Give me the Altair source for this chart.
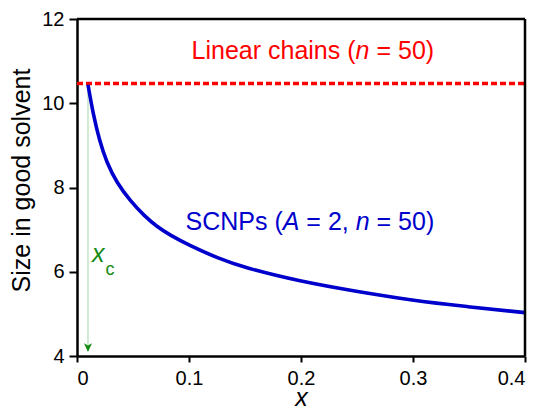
import altair as alt
import pandas as pd

# ---- data ----
x_vals = [0.0098, 0.0146, 0.020, 0.0265, 0.0356, 0.0476, 0.060, 0.0714, 0.083,
          0.100, 0.125, 0.149, 0.199, 0.250, 0.297, 0.348, 0.400]
size_vals = [10.44, 9.72, 9.12, 8.59, 8.11, 7.68, 7.33, 7.07, 6.87,
             6.63, 6.33, 6.10, 5.77, 5.53, 5.33, 5.17, 5.03]
linear_size = 10.47
x_c = 0.0098
x_ticks = [0, 0.1, 0.2, 0.3, 0.4]
y_ticks = [4, 6, 8, 10, 12]
x_min, x_max = 0, 0.4
y_min, y_max = 4, 12

FONT = "Liberation Sans"
BLUE = "#0000cc"
RED = "#ff0000"
GREEN_TXT = "#148a14"
GREEN_LINE = "#b4dcb4"

df = pd.DataFrame({"x": x_vals, "size": size_vals})
one = pd.DataFrame({"k": [0]})  # single row for annotation layers

xs = alt.Scale(domain=[x_min, x_max], nice=False, zero=False)
ys = alt.Scale(domain=[y_min, y_max], nice=False, zero=False)

X = alt.X("x:Q", scale=xs, axis=alt.Axis(
    values=x_ticks, format="~g", title="x", titleFontStyle="italic",
    titleFontSize=25, titleFontWeight="normal", titleBaseline="alphabetic",
    titleY=49, tickSize=6, labelPadding=22, labelBaseline="alphabetic"))
Y = alt.Y("size:Q", scale=ys, axis=alt.Axis(
    values=y_ticks, title="Size in good solvent", titleFontSize=25,
    titleFontWeight="normal", titleX=-56, titleY=161, titleAlign="center",
    titleBaseline="middle", tickSize=8, labelPadding=5))

curve = alt.Chart(df).mark_line(color=BLUE, strokeWidth=3.6, interpolate="basis").encode(x=X, y=Y)

# frame (top and right sides)
frame_top = alt.Chart(one).mark_rule(color="black", strokeWidth=2.5).encode(
    x=alt.datum(x_min, scale=xs), x2=alt.datum(x_max), y=alt.datum(y_max, scale=ys))
frame_right = alt.Chart(one).mark_rule(color="black", strokeWidth=2.5).encode(
    x=alt.datum(x_max), y=alt.datum(y_min), y2=alt.datum(y_max))

red_line = alt.Chart(one).mark_rule(color=RED, strokeWidth=3.5, strokeDash=[6, 3]).encode(
    x=alt.datum(x_min), x2=alt.datum(x_max), y=alt.datum(linear_size))

green_line = alt.Chart(one).mark_rule(color=GREEN_LINE, strokeWidth=1.2).encode(
    x=alt.datum(x_c), y=alt.datum(linear_size), y2=alt.datum(4.12))

arrow = alt.Chart(one).mark_point(
    shape="M-1,-1.1 L0,1.1 L1,-1.1 L0,-0.5 Z", size=64, filled=True,
    fill=GREEN_TXT, strokeWidth=0, opacity=1).encode(x=alt.datum(x_c), y=alt.datum(4.2))


def txt(s, x, y, color, size=25, align="left", dx=0, italic=False):
    kw = dict(text=s, fill=color, fontSize=size, align=align,
              baseline="alphabetic", dx=dx, font=FONT, fontWeight="normal")
    if italic:
        kw["fontStyle"] = "italic"
    return alt.Chart(one).mark_text(**kw).encode(x=alt.datum(x), y=alt.datum(y))


red_x, red_y = 0.2487, 11.04
blue_x, blue_y = 0.1837, 6.99

labels = [
    txt("Linear chains (", red_x, red_y, RED, align="right"),
    txt("n", red_x, red_y, RED, italic=True),
    txt("= 50)", red_x, red_y, RED, dx=20.9),
    txt("SCNPs (", blue_x, blue_y, BLUE, align="right"),
    txt("A", blue_x, blue_y, BLUE, italic=True),
    txt("= 2,", blue_x, blue_y, BLUE, dx=23.6),
    txt("n", blue_x, blue_y, BLUE, dx=73.0, italic=True),
    txt("= 50)", blue_x, blue_y, BLUE, dx=93.8),
    txt("x", 0.0134, 6.224, GREEN_TXT, size=25, italic=True),
    txt("c", 0.0254, 5.923, GREEN_TXT, size=18),
]

chart = alt.layer(green_line, arrow, red_line, curve, frame_top, frame_right, *labels).properties(
    width=448, height=337,
    autosize=alt.AutoSizeParams(type="none"),
    padding={"left": 69, "top": 11, "right": 6, "bottom": 54},
).configure_view(stroke=None).configure_axis(
    grid=False, domainColor="black", domainWidth=2.5, tickColor="black",
    tickWidth=2, labelColor="black", titleColor="black", labelFont=FONT,
    titleFont=FONT, labelFontSize=20,
)

chart.save("out.html", embed_options={"renderer": "svg", "actions": False})
